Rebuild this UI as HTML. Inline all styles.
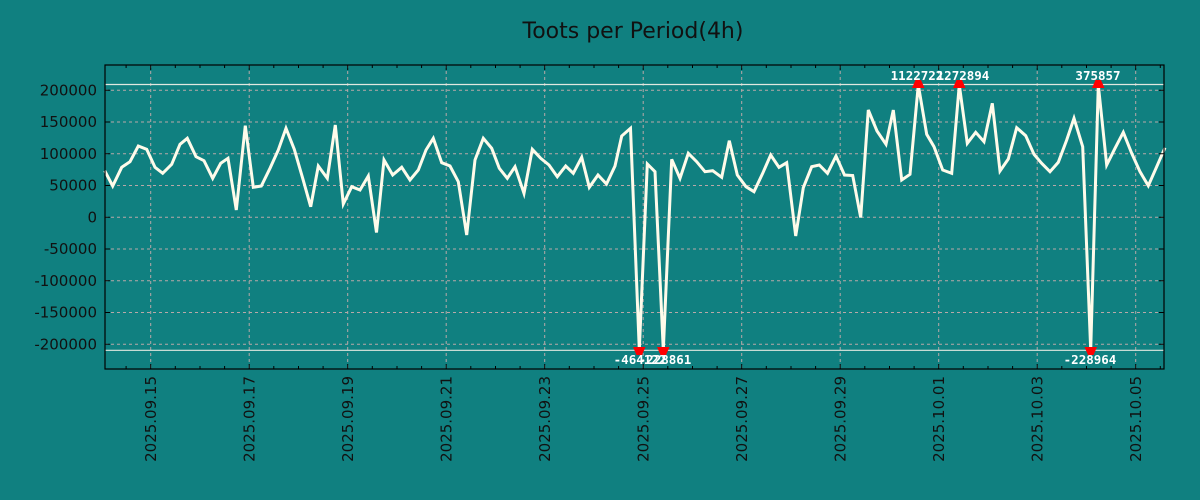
<!DOCTYPE html>
<html><head><meta charset="utf-8"><style>html,body{margin:0;padding:0;background:#108080;}svg{display:block}</style></head>
<body>
<svg width="1200" height="500" xmlns="http://www.w3.org/2000/svg" font-family="'DejaVu Sans','Liberation Sans',sans-serif">
<rect width="1200" height="500" fill="#108080"/>
<text x="633" y="38" font-size="22" text-anchor="middle" fill="#111">Toots per Period(4h)</text>
<g stroke="#b8a8a8" stroke-width="1" stroke-dasharray="3,3">
<line x1="105" x2="1164" y1="90.3" y2="90.3"/><line x1="105" x2="1164" y1="122" y2="122"/><line x1="105" x2="1164" y1="153.8" y2="153.8"/><line x1="105" x2="1164" y1="185.5" y2="185.5"/><line x1="105" x2="1164" y1="217.3" y2="217.3"/><line x1="105" x2="1164" y1="249" y2="249"/><line x1="105" x2="1164" y1="280.8" y2="280.8"/><line x1="105" x2="1164" y1="312.5" y2="312.5"/><line x1="105" x2="1164" y1="344.3" y2="344.3"/>
<line y1="65" y2="369" x1="150.7" x2="150.7"/><line y1="65" y2="369" x1="249.2" x2="249.2"/><line y1="65" y2="369" x1="347.7" x2="347.7"/><line y1="65" y2="369" x1="446.2" x2="446.2"/><line y1="65" y2="369" x1="544.7" x2="544.7"/><line y1="65" y2="369" x1="643.2" x2="643.2"/><line y1="65" y2="369" x1="741.7" x2="741.7"/><line y1="65" y2="369" x1="840.2" x2="840.2"/><line y1="65" y2="369" x1="938.7" x2="938.7"/><line y1="65" y2="369" x1="1037.2" x2="1037.2"/><line y1="65" y2="369" x1="1135.7" x2="1135.7"/>
</g>
<line x1="105" x2="1164" y1="84.5" y2="84.5" stroke="#e0e8e0" stroke-width="1.2"/>
<line x1="105" x2="1164" y1="350.3" y2="350.3" stroke="#e0e8e0" stroke-width="1.2"/>
<polyline fill="none" stroke="#fffbea" stroke-width="3" stroke-linejoin="miter" points="104.7,170.7 112.7,186 121.7,167.3 130,161.7 138.3,146 146.7,149.3 155,167.3 162.7,173.3 171.7,164.3 180,144.3 187.3,138.3 196,156.7 204,160.7 212.7,178.3 220.7,163.3 228,158.3 236.3,210 245.3,125.7 253.3,187.3 261.3,186 270,168.3 278.3,150 286,128.3 294.3,149.3 302.7,178.3 310.7,206.7 318.3,166 327.3,178.3 335.3,125 343.3,204 351.7,186.7 360,190 368.3,176 376.5,232.5 384,160 392.7,175 401.7,167.3 410,180 418.3,170 426,150 433.3,138.3 441.7,162.7 450,166 458.3,181.7 466.7,235 475,160 483.3,138.3 491.7,148.3 499.3,168.3 507.3,178.3 515,166.7 524,193.3 532.3,149.3 540.7,158.3 549,165 557.3,176.7 565.7,166 573.3,173.3 581.7,157.3 589.3,187.3 598,175 606.5,184 615,166 621.7,136 630.5,128.3 639.3,350 647.3,164 655,171.7 663.3,350 671.7,159.3 680,178.3 688.3,153.3 696.7,161.7 705,171.7 712.7,170.7 721.7,177.3 729.3,140.7 737.3,175 746,186.7 754,191.7 762.7,173.3 770.7,155 779,167.3 786.7,162.7 795.7,236 803.3,187.7 811.7,166.7 819.3,165 827.5,173.3 836,156 844.5,175 852.7,175.5 860.7,217.5 868.3,110 877,131 886,144.3 893.3,110 901.7,180 910,174.3 918.3,85 926.7,134.3 934,146.7 942.7,170 951.7,173.3 959.3,85 967.3,143.3 975.7,132.3 984,141.7 992.3,103.3 1000,171 1008.3,159 1016.7,127.7 1025.7,135.7 1034,154.3 1041.7,163.3 1050,171.7 1058.3,162.3 1066.7,140 1074,118.3 1082.7,146.7 1090.7,350 1098.3,85 1106.7,165 1115,148.3 1123.3,132.3 1131.7,153.3 1140,171.7 1148.3,185.7 1156.7,166.7 1165,147.7"/>
<g fill="#ff0000">
<polygon points="912,88 924.5,88 921,80 915.5,80"/><polygon points="953,88 965.5,88 962,80 956.5,80"/><polygon points="1092,88 1104.5,88 1101,80 1095.5,80"/>
<polygon points="633,347 645.5,347 642,355 636.5,355"/><polygon points="657,347 669.5,347 666,355 660.5,355"/><polygon points="1084.5,347 1097,347 1093.5,355 1088,355"/>
</g>
<g fill="#ffffff" font-family="'DejaVu Sans Mono','Liberation Mono',monospace" font-weight="bold" font-size="12.5" text-anchor="middle">
<text x="917" y="80">1122722</text><text x="963" y="80">1272894</text><text x="1098" y="80">375857</text>
<text x="640" y="364">-464122</text><text x="665" y="364">-228861</text><text x="1090" y="364">-228964</text>
</g>
<rect x="105" y="65" width="1059" height="304" fill="none" stroke="#000" stroke-width="1.2"/>
<g stroke="#000" stroke-width="1">
<path d="M105,90.3h5M105,122h5M105,153.8h5M105,185.5h5M105,217.3h5M105,249h5M105,280.8h5M105,312.5h5M105,344.3h5M1164,90.3h-5M1164,122h-5M1164,153.8h-5M1164,185.5h-5M1164,217.3h-5M1164,249h-5M1164,280.8h-5M1164,312.5h-5M1164,344.3h-5"/>
<path d="M126.1,65v3M150.7,65v5M175.3,65v3M200,65v3M224.6,65v3M249.2,65v5M273.8,65v3M298.5,65v3M323.1,65v3M347.7,65v5M372.3,65v3M397,65v3M421.6,65v3M446.2,65v5M470.8,65v3M495.5,65v3M520.1,65v3M544.7,65v5M569.3,65v3M594,65v3M618.6,65v3M643.2,65v5M667.8,65v3M692.5,65v3M717.1,65v3M741.7,65v5M766.3,65v3M791,65v3M815.6,65v3M840.2,65v5M864.8,65v3M889.5,65v3M914.1,65v3M938.7,65v5M963.3,65v3M988,65v3M1012.6,65v3M1037.2,65v5M1061.8,65v3M1086.5,65v3M1111.1,65v3M1135.7,65v5M1160.3,65v3"/>
<path d="M126.1,369v-3M150.7,369v-5M175.3,369v-3M200,369v-3M224.6,369v-3M249.2,369v-5M273.8,369v-3M298.5,369v-3M323.1,369v-3M347.7,369v-5M372.3,369v-3M397,369v-3M421.6,369v-3M446.2,369v-5M470.8,369v-3M495.5,369v-3M520.1,369v-3M544.7,369v-5M569.3,369v-3M594,369v-3M618.6,369v-3M643.2,369v-5M667.8,369v-3M692.5,369v-3M717.1,369v-3M741.7,369v-5M766.3,369v-3M791,369v-3M815.6,369v-3M840.2,369v-5M864.8,369v-3M889.5,369v-3M914.1,369v-3M938.7,369v-5M963.3,369v-3M988,369v-3M1012.6,369v-3M1037.2,369v-5M1061.8,369v-3M1086.5,369v-3M1111.1,369v-3M1135.7,369v-5M1160.3,369v-3"/>
</g>
<g fill="#111" font-size="15" text-anchor="end">
<text x="97" y="95.5">200000</text><text x="97" y="127.2">150000</text><text x="97" y="159">100000</text><text x="97" y="190.7">50000</text><text x="97" y="222.5">0</text><text x="97" y="254.2">-50000</text><text x="97" y="286">-100000</text><text x="97" y="317.7">-150000</text><text x="97" y="349.5">-200000</text>
</g>
<g fill="#111" font-size="15" text-anchor="end">
<text transform="translate(156,376) rotate(-90)">2025.09.15</text>
<text transform="translate(254.5,376) rotate(-90)">2025.09.17</text>
<text transform="translate(353,376) rotate(-90)">2025.09.19</text>
<text transform="translate(451.5,376) rotate(-90)">2025.09.21</text>
<text transform="translate(550,376) rotate(-90)">2025.09.23</text>
<text transform="translate(648.5,376) rotate(-90)">2025.09.25</text>
<text transform="translate(747,376) rotate(-90)">2025.09.27</text>
<text transform="translate(845.5,376) rotate(-90)">2025.09.29</text>
<text transform="translate(944,376) rotate(-90)">2025.10.01</text>
<text transform="translate(1042.5,376) rotate(-90)">2025.10.03</text>
<text transform="translate(1141,376) rotate(-90)">2025.10.05</text>
</g>
</svg>
</body></html>
